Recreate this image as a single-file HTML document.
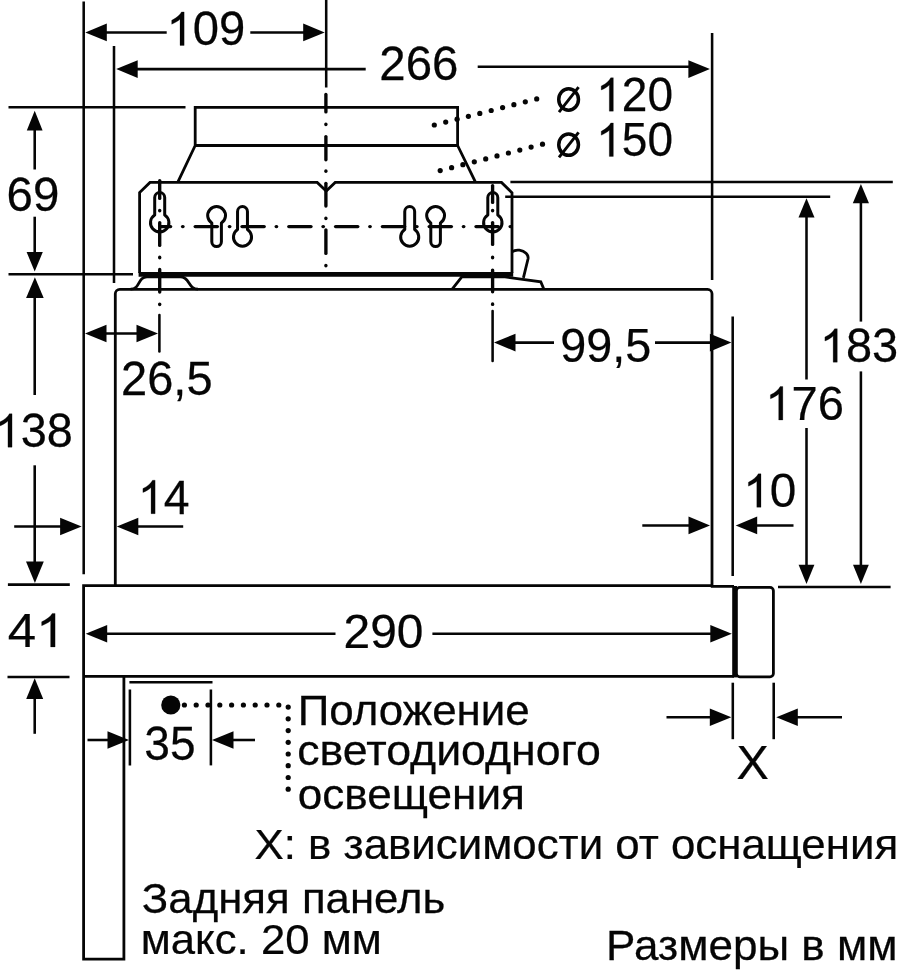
<!DOCTYPE html>
<html><head><meta charset="utf-8">
<style>
html,body{margin:0;padding:0;background:#fff;}
svg{display:block;}
text{font-family:"Liberation Sans",sans-serif;fill:#050505;stroke:#050505;stroke-width:0.25;white-space:pre}
.g{fill:#050505;stroke:#050505;stroke-width:11}
.l{stroke:#050505;stroke-width:2.8;fill:none;stroke-linecap:butt;stroke-linejoin:miter}
.k{stroke:#050505;stroke-width:3.0;fill:none;stroke-linejoin:round}
.t{stroke:#050505;stroke-width:2.55;fill:none}
.c{stroke:#050505;stroke-width:3.35;fill:none;stroke-linecap:round}
.a{fill:#050505;stroke:none}
</style></head><body>
<svg width="897" height="970" viewBox="0 0 897 970">
<rect width="897" height="970" fill="#fff"/>
<line class="t" x1="83.7" y1="1.5" x2="83.7" y2="574.3"/>
<line class="t" x1="114.0" y1="46.0" x2="114.0" y2="283.0"/>
<line class="t" x1="326.2" y1="0.0" x2="326.2" y2="87.5"/>
<line class="t" x1="712.1" y1="33.0" x2="712.1" y2="280.0"/>
<line class="t" x1="732.7" y1="316.5" x2="732.7" y2="576.0"/>
<line class="t" x1="8.5" y1="107.3" x2="185.5" y2="107.3"/>
<line class="t" x1="8.5" y1="274.3" x2="133.0" y2="274.3"/>
<line class="t" x1="7.9" y1="584.6" x2="69.8" y2="584.6"/>
<line class="t" x1="7.5" y1="677.0" x2="69.5" y2="677.0"/>
<line class="t" x1="510.4" y1="182.0" x2="892.8" y2="182.0"/>
<line class="t" x1="505.2" y1="196.8" x2="830.2" y2="196.8"/>
<line class="t" x1="778.0" y1="587.0" x2="890.6" y2="587.0"/>
<line class="t" x1="732.8" y1="682.7" x2="732.8" y2="739.2"/>
<line class="t" x1="773.7" y1="682.7" x2="773.7" y2="739.2"/>
<line class="t" x1="129.9" y1="689.5" x2="129.9" y2="765.5"/>
<line class="t" x1="210.9" y1="689.5" x2="210.9" y2="765.4"/>
<line class="t" x1="129.4" y1="682.2" x2="212.5" y2="682.2"/>
<polygon class="a" points="85.3,32.4 106.8,23.6 106.8,41.2"/>
<polygon class="a" points="324.7,32.4 303.2,23.6 303.2,41.2"/>
<line class="t" x1="104.0" y1="32.4" x2="166.7" y2="32.4"/>
<line class="t" x1="250.3" y1="32.4" x2="306.0" y2="32.4"/>
<polygon class="a" points="116.2,69.1 137.7,60.3 137.7,77.9"/>
<polygon class="a" points="709.9,69.1 688.4,60.3 688.4,77.9"/>
<line class="t" x1="134.0" y1="69.1" x2="365.7" y2="69.1"/>
<line class="t" x1="477.7" y1="66.8" x2="692.0" y2="66.8"/>
<polygon class="a" points="34.7,110.8 26.8,130.4 42.6,130.4"/>
<polygon class="a" points="34.7,271.5 26.6,252.0 42.8,252.0"/>
<line class="t" x1="34.7" y1="128.0" x2="34.7" y2="169.5"/>
<line class="t" x1="34.7" y1="216.7" x2="34.7" y2="254.0"/>
<polygon class="a" points="34.9,277.3 26.1,298.0 43.7,298.0"/>
<polygon class="a" points="34.9,583.0 26.0,561.5 43.8,561.5"/>
<line class="t" x1="34.7" y1="296.0" x2="34.7" y2="395.0"/>
<line class="t" x1="34.7" y1="465.3" x2="34.7" y2="563.0"/>
<polygon class="a" points="34.7,678.3 26.2,699.0 43.2,699.0"/>
<line class="t" x1="34.7" y1="697.0" x2="34.7" y2="733.8"/>
<polygon class="a" points="85.0,333.5 106.5,324.7 106.5,342.3"/>
<polygon class="a" points="158.0,333.5 136.5,324.7 136.5,342.3"/>
<line class="t" x1="104.0" y1="333.5" x2="139.0" y2="333.5"/>
<polygon class="a" points="81.6,526.5 60.1,517.7 60.1,535.3"/>
<line class="t" x1="14.2" y1="526.5" x2="63.0" y2="526.5"/>
<polygon class="a" points="116.8,526.5 138.3,517.7 138.3,535.3"/>
<line class="t" x1="136.0" y1="526.5" x2="183.2" y2="526.5"/>
<polygon class="a" points="494.0,342.6 515.5,333.8 515.5,351.4"/>
<line class="t" x1="513.0" y1="342.6" x2="554.0" y2="342.6"/>
<polygon class="a" points="731.4,342.6 709.9,333.8 709.9,351.4"/>
<line class="t" x1="655.0" y1="342.6" x2="712.0" y2="342.6"/>
<polygon class="a" points="710.0,525.4 688.5,516.6 688.5,534.2"/>
<line class="t" x1="642.3" y1="525.4" x2="692.0" y2="525.4"/>
<polygon class="a" points="735.7,525.4 757.2,516.6 757.2,534.2"/>
<line class="t" x1="755.0" y1="525.4" x2="793.5" y2="525.4"/>
<polygon class="a" points="806.5,198.3 798.5,217.5 814.5,217.5"/>
<polygon class="a" points="806.5,584.0 798.6,564.8 814.4,564.8"/>
<line class="t" x1="806.5" y1="217.0" x2="806.5" y2="379.5"/>
<line class="t" x1="806.5" y1="428.0" x2="806.5" y2="566.0"/>
<polygon class="a" points="860.9,183.9 852.8,203.2 869.0,203.2"/>
<polygon class="a" points="860.9,584.0 853.0,564.8 868.8,564.8"/>
<line class="t" x1="860.9" y1="203.0" x2="860.9" y2="321.6"/>
<line class="t" x1="860.9" y1="371.4" x2="860.9" y2="566.0"/>
<polygon class="a" points="85.7,633.7 107.2,624.9 107.2,642.5"/>
<polygon class="a" points="731.8,633.7 710.3,624.9 710.3,642.5"/>
<line class="t" x1="105.0" y1="633.7" x2="335.5" y2="633.7"/>
<line class="t" x1="432.4" y1="633.7" x2="712.0" y2="633.7"/>
<polygon class="a" points="129.0,740.0 107.5,731.2 107.5,748.8"/>
<line class="t" x1="87.5" y1="740.0" x2="110.0" y2="740.0"/>
<polygon class="a" points="212.0,740.0 233.5,731.2 233.5,748.8"/>
<line class="t" x1="231.0" y1="740.0" x2="255.0" y2="740.0"/>
<polygon class="a" points="731.3,717.3 709.8,708.5 709.8,726.1"/>
<line class="t" x1="666.5" y1="717.3" x2="713.0" y2="717.3"/>
<polygon class="a" points="776.3,717.3 797.8,708.5 797.8,726.1"/>
<line class="t" x1="795.0" y1="717.3" x2="842.0" y2="717.3"/>
<g class="l">
<path d="M195.2 145.5 V107.4 H457.6 V145.5 M193.8 145.5 H459 M195.2 145.5 L177.7 182.4 M457.6 145.5 L475.6 182.4"/>
<path d="M139.6 273 V192.6 L150 182.4 H317.2 L326.2 191 L335.2 182.4 H501.5 L512 192.8 V273"/>
<path d="M115.3 585 V293.8 A4.5 4.5 0 0 1 119.8 289.3 H707.5 A4.5 4.5 0 0 1 712 293.8 V586.3"/>
<path d="M82.2 585.6 H712 M710.8 586.3 H734 M83.6 585 V959.2 H123.9 V676.4 M83.6 676.4 H734"/>
<rect x="736.4" y="587.4" width="37" height="89.4" rx="3.4"/>
<path d="M130.6 289.2 C140.5 289.2 137.5 276.8 147 276.8 H180.3 C190 276.8 188 289.2 198 289.2"/>
<path d="M452.2 289.2 L461.8 276.9 H505 L540.8 281.9 L543.9 289.2"/>
<path d="M511.9 251.9 C514 250.4 516.8 249.9 519.4 250.2 C524.8 250.9 528.9 254.6 528 259 L523.4 277.8"/>
</g>
<path d="M138.6 274.3 H513.2" stroke="#050505" stroke-width="4.7" fill="none"/>
<path d="M734.6 586 V677.4" stroke="#050505" stroke-width="4.8" fill="none"/>
<path class="k" d="M154.70 214.98 V197.50 A5.00 5.00 0 0 1 164.70 197.50 V214.98 A9.20 9.20 0 1 1 154.70 214.98 Z"/>
<path class="k" d="M487.80 214.98 V197.50 A5.00 5.00 0 0 1 497.80 197.50 V214.98 A9.20 9.20 0 1 1 487.80 214.98 Z"/>
<path class="k" d="M211.80 222.99 V241.80 A4.80 4.80 0 0 0 221.40 241.80 V222.99 A8.90 8.90 0 1 0 211.80 222.99 Z"/>
<path class="k" d="M430.80 222.99 V241.80 A4.80 4.80 0 0 0 440.40 241.80 V222.99 A8.90 8.90 0 1 0 430.80 222.99 Z"/>
<path class="k" d="M237.55 229.52 V211.55 A4.95 4.95 0 0 1 247.45 211.55 V229.52 A9.05 9.05 0 1 1 237.55 229.52 Z"/>
<path class="k" d="M404.75 229.52 V211.55 A4.95 4.95 0 0 1 414.65 211.55 V229.52 A9.05 9.05 0 1 1 404.75 229.52 Z"/>
<line class="c" x1="160.1" y1="226.6" x2="170.6" y2="226.6"/>
<line class="c" x1="182.6" y1="226.6" x2="183.0" y2="226.6"/>
<line class="c" x1="195.2" y1="226.6" x2="217.4" y2="226.6"/>
<line class="c" x1="229.4" y1="226.6" x2="229.8" y2="226.6"/>
<line class="c" x1="242.0" y1="226.6" x2="264.2" y2="226.6"/>
<line class="c" x1="276.2" y1="226.6" x2="276.6" y2="226.6"/>
<line class="c" x1="288.8" y1="226.6" x2="311.0" y2="226.6"/>
<line class="c" x1="323.0" y1="226.6" x2="323.4" y2="226.6"/>
<line class="c" x1="335.6" y1="226.6" x2="357.8" y2="226.6"/>
<line class="c" x1="369.8" y1="226.6" x2="370.2" y2="226.6"/>
<line class="c" x1="382.4" y1="226.6" x2="404.6" y2="226.6"/>
<line class="c" x1="416.6" y1="226.6" x2="417.0" y2="226.6"/>
<line class="c" x1="429.2" y1="226.6" x2="451.4" y2="226.6"/>
<line class="c" x1="463.4" y1="226.6" x2="463.8" y2="226.6"/>
<line class="c" x1="476.0" y1="226.6" x2="498.2" y2="226.6"/>
<line class="c" x1="510.2" y1="226.6" x2="510.6" y2="226.6"/>
<line class="c" x1="159.7" y1="180.6" x2="159.7" y2="198.4"/>
<line class="c" x1="159.7" y1="222.6" x2="159.7" y2="245.4"/>
<line class="c" x1="159.7" y1="269.4" x2="159.7" y2="292.0"/>
<line class="c" x1="159.7" y1="210.3" x2="159.7" y2="210.7"/>
<line class="c" x1="159.7" y1="257.3" x2="159.7" y2="257.7"/>
<line class="c" x1="159.7" y1="304.1" x2="159.7" y2="304.5"/>
<line class="t" stroke-linecap="round" x1="159.4" y1="315" x2="159.4" y2="351.5"/>
<line class="c" x1="325.9" y1="94.4" x2="325.9" y2="111.9"/>
<line class="c" x1="325.9" y1="136.6" x2="325.9" y2="159.7"/>
<line class="c" x1="325.9" y1="183.3" x2="325.9" y2="206.1"/>
<line class="c" x1="325.9" y1="229.8" x2="325.9" y2="253.4"/>
<line class="c" x1="325.9" y1="124.1" x2="325.9" y2="124.5"/>
<line class="c" x1="325.9" y1="170.8" x2="325.9" y2="171.2"/>
<line class="c" x1="325.9" y1="218.1" x2="325.9" y2="218.5"/>
<line class="c" x1="325.9" y1="265.3" x2="325.9" y2="265.7"/>
<line class="c" x1="492.6" y1="185.6" x2="492.6" y2="202.4"/>
<line class="c" x1="492.6" y1="222.6" x2="492.6" y2="244.4"/>
<line class="c" x1="492.6" y1="270.1" x2="492.6" y2="291.8"/>
<line class="c" x1="492.6" y1="210.3" x2="492.6" y2="210.7"/>
<line class="c" x1="492.6" y1="257.3" x2="492.6" y2="257.7"/>
<line class="c" x1="492.6" y1="304.0" x2="492.6" y2="304.4"/>
<line class="t" stroke-linecap="round" x1="492.6" y1="311" x2="492.6" y2="361"/>
<circle class="a" cx="434.3" cy="125.0" r="2.6"/>
<circle class="a" cx="445.7" cy="122.1" r="2.6"/>
<circle class="a" cx="457.1" cy="119.2" r="2.6"/>
<circle class="a" cx="468.4" cy="116.3" r="2.6"/>
<circle class="a" cx="479.8" cy="113.4" r="2.6"/>
<circle class="a" cx="491.2" cy="110.5" r="2.6"/>
<circle class="a" cx="502.6" cy="107.6" r="2.6"/>
<circle class="a" cx="513.9" cy="104.7" r="2.6"/>
<circle class="a" cx="525.3" cy="101.8" r="2.6"/>
<circle class="a" cx="536.7" cy="98.9" r="2.6"/>
<circle class="a" cx="440.2" cy="170.6" r="2.6"/>
<circle class="a" cx="451.6" cy="167.7" r="2.6"/>
<circle class="a" cx="462.9" cy="164.7" r="2.6"/>
<circle class="a" cx="474.3" cy="161.8" r="2.6"/>
<circle class="a" cx="485.7" cy="158.9" r="2.6"/>
<circle class="a" cx="497.0" cy="155.9" r="2.6"/>
<circle class="a" cx="508.4" cy="153.0" r="2.6"/>
<circle class="a" cx="519.8" cy="150.1" r="2.6"/>
<circle class="a" cx="531.1" cy="147.1" r="2.6"/>
<circle class="a" cx="542.5" cy="144.2" r="2.6"/>
<circle class="a" cx="170.8" cy="705" r="9.6"/>
<circle class="a" cx="184.4" cy="705.0" r="2.6"/>
<circle class="a" cx="196.2" cy="705.0" r="2.6"/>
<circle class="a" cx="208.0" cy="705.0" r="2.6"/>
<circle class="a" cx="219.8" cy="705.0" r="2.6"/>
<circle class="a" cx="231.6" cy="705.0" r="2.6"/>
<circle class="a" cx="243.4" cy="705.0" r="2.6"/>
<circle class="a" cx="255.2" cy="705.0" r="2.6"/>
<circle class="a" cx="267.0" cy="705.0" r="2.6"/>
<circle class="a" cx="278.8" cy="705.0" r="2.6"/>
<circle class="a" cx="288.2" cy="707.1" r="2.6"/>
<circle class="a" cx="288.2" cy="718.8" r="2.6"/>
<circle class="a" cx="288.2" cy="730.6" r="2.6"/>
<circle class="a" cx="288.2" cy="742.3" r="2.6"/>
<circle class="a" cx="288.2" cy="754.0" r="2.6"/>
<circle class="a" cx="288.2" cy="765.7" r="2.6"/>
<circle class="a" cx="288.2" cy="777.5" r="2.6"/>
<circle class="a" cx="288.2" cy="789.2" r="2.6"/>
<g opacity="0.999">
<g transform="translate(166.56,45.40) scale(0.9695,1)">
<path class="g" transform="translate(0.00,0) scale(0.02378,-0.02276)" d="M763 0H583V1147Q518 1085 412.5 1023Q307 961 223 930V1104Q374 1175 487 1276Q600 1377 647 1472H763Z"/>
<text x="27.08" font-size="48.7">09</text>
</g>
<g transform="translate(379.33,80.00) scale(0.9731,1)">
<text x="0.00" font-size="48.7">266</text>
</g>
<ellipse cx="568.6" cy="99.45" rx="9.85" ry="10.7" fill="none" stroke="#050505" stroke-width="3.5"/>
<line x1="559" y1="112.10" x2="578.6" y2="87.10" stroke="#050505" stroke-width="2.9"/>
<g transform="translate(596.18,111.20) scale(0.9460,1)">
<path class="g" transform="translate(0.00,0) scale(0.02378,-0.02276)" d="M763 0H583V1147Q518 1085 412.5 1023Q307 961 223 930V1104Q374 1175 487 1276Q600 1377 647 1472H763Z"/>
<text x="27.08" font-size="48.7">20</text>
</g>
<ellipse cx="568.6" cy="144.65" rx="9.85" ry="10.7" fill="none" stroke="#050505" stroke-width="3.5"/>
<line x1="559" y1="157.30" x2="578.6" y2="132.30" stroke="#050505" stroke-width="2.9"/>
<g transform="translate(596.18,156.40) scale(0.9460,1)">
<path class="g" transform="translate(0.00,0) scale(0.02378,-0.02276)" d="M763 0H583V1147Q518 1085 412.5 1023Q307 961 223 930V1104Q374 1175 487 1276Q600 1377 647 1472H763Z"/>
<text x="27.08" font-size="48.7">50</text>
</g>
<g transform="translate(6.53,210.80) scale(0.9751,1)">
<text x="0.00" font-size="48.7">69</text>
</g>
<g transform="translate(-5.40,447.20) scale(0.9622,1)">
<path class="g" transform="translate(0.00,0) scale(0.02378,-0.02276)" d="M763 0H583V1147Q518 1085 412.5 1023Q307 961 223 930V1104Q374 1175 487 1276Q600 1377 647 1472H763Z"/>
<text x="27.08" font-size="48.7">38</text>
</g>
<g transform="translate(121.05,394.90) scale(0.9653,1)">
<text x="0.00" font-size="48.7">26,5</text>
</g>
<g transform="translate(137.85,513.70) scale(0.9525,1)">
<path class="g" transform="translate(0.00,0) scale(0.02378,-0.02276)" d="M763 0H583V1147Q518 1085 412.5 1023Q307 961 223 930V1104Q374 1175 487 1276Q600 1377 647 1472H763Z"/>
<text x="27.08" font-size="48.7">4</text>
</g>
<g transform="translate(560.20,361.70) scale(0.9605,1)">
<text x="0.00" font-size="48.7">99,5</text>
</g>
<g transform="translate(819.79,362.20) scale(0.9641,1)">
<path class="g" transform="translate(0.00,0) scale(0.02378,-0.02276)" d="M763 0H583V1147Q518 1085 412.5 1023Q307 961 223 930V1104Q374 1175 487 1276Q600 1377 647 1472H763Z"/>
<text x="27.08" font-size="48.7">83</text>
</g>
<g transform="translate(765.27,420.00) scale(0.9681,1)">
<path class="g" transform="translate(0.00,0) scale(0.02378,-0.02276)" d="M763 0H583V1147Q518 1085 412.5 1023Q307 961 223 930V1104Q374 1175 487 1276Q600 1377 647 1472H763Z"/>
<text x="27.08" font-size="48.7">76</text>
</g>
<g transform="translate(743.19,507.30) scale(0.9816,1)">
<path class="g" transform="translate(0.00,0) scale(0.02378,-0.02276)" d="M763 0H583V1147Q518 1085 412.5 1023Q307 961 223 930V1104Q374 1175 487 1276Q600 1377 647 1472H763Z"/>
<text x="27.08" font-size="48.7">0</text>
</g>
<g transform="translate(7.72,646.90) scale(1.0474,1)">
<text x="0.00" font-size="48.7">4</text>
<path class="g" transform="translate(27.09,0) scale(0.02378,-0.02276)" d="M763 0H583V1147Q518 1085 412.5 1023Q307 961 223 930V1104Q374 1175 487 1276Q600 1377 647 1472H763Z"/>
</g>
<g transform="translate(343.50,648.20) scale(0.9843,1)">
<text x="0.00" font-size="48.7">290</text>
</g>
<g transform="translate(144.36,760.20) scale(0.9450,1)">
<text x="0.00" font-size="48.7">35</text>
</g>
<g transform="translate(736.59,778.80) scale(0.9936,1)">
<text x="0.00" font-size="48.7">X</text>
</g>
<g transform="translate(297.69,724.50) scale(1.0217,1)">
<text x="0.00" font-size="43">Положение</text>
</g>
<g transform="translate(297.19,765.40) scale(1.0402,1)">
<text x="0.00" font-size="43">светодиодного</text>
</g>
<g transform="translate(297.73,808.90) scale(1.0262,1)">
<text x="0.00" font-size="43">освещения</text>
</g>
<g transform="translate(254.50,858.60) scale(1.0195,1)">
<text x="0.00" font-size="43">X: в зависимости от оснащения</text>
</g>
<g transform="translate(141.87,912.50) scale(1.0180,1)">
<text x="0.00" font-size="43">Задняя панель</text>
</g>
<g transform="translate(140.74,953.80) scale(1.0168,1)">
<text x="0.00" font-size="43">макс. 20 мм</text>
</g>
<g transform="translate(606.08,960.00) scale(1.0244,1)">
<text x="0.00" font-size="43">Размеры в мм</text>
</g>
</g>
</svg>
</body></html>
